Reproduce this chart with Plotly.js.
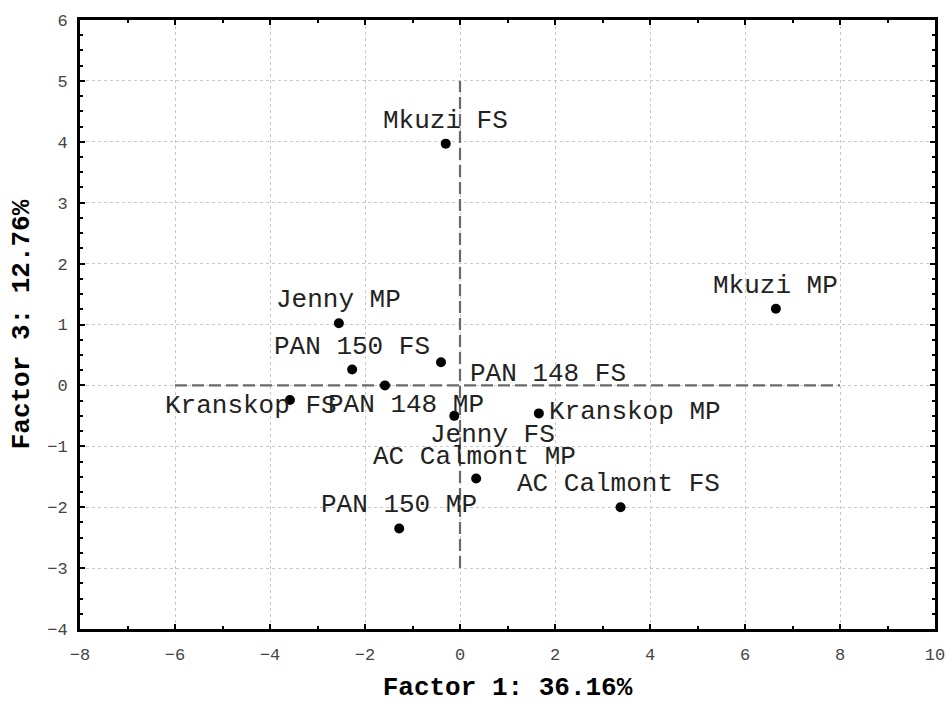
<!DOCTYPE html>
<html>
<head>
<meta charset="utf-8">
<script src="https://cdn.plot.ly/plotly-3.0.1.min.js"></script>
<style>html,body{margin:0;padding:0;background:#fff;}#chart{width:948px;height:709px;}</style>
</head>
<body>
<div id="chart"></div>
<script>
// ---- data ----
const labels = ["Mkuzi FS","Mkuzi MP","Jenny MP","PAN 150 FS","PAN 148 FS","PAN 148 MP","Kranskop FS","Jenny FS","Kranskop MP","AC Calmont MP","AC Calmont FS","PAN 150 MP"];
const factor1 = [-0.30, 6.65, -2.55, -2.27, -0.40, -1.58, -3.58, -0.12, 1.66, 0.34, 3.38, -1.28];
const factor3 = [3.97, 1.26, 1.02, 0.26, 0.38, 0.00, -0.24, -0.50, -0.46, -1.53, -2.00, -2.35];
const crossHx = [-6, 8], crossHy = [0, 0];
const crossVx = [0, 0], crossVy = [-3, 5];
const xTitle = "Factor 1: 36.16%";
const yTitle = "Factor 3: 12.76%";

// label offsets in px (text centre relative to point; dy positive = down)
const labelDx = [0, 0, 0, 0, 107, 21, -39, 38, 96, -2, -2, 0];
const labelDy = [-23, -23, -23, -23, 12, 20, 6, 19, -1, -22, -23, -24];

const mono = "'Courier New', 'Liberation Mono', monospace";

const traces = [
  {x: crossHx, y: crossHy, mode: "lines", line: {color: "#6a6a6a", width: 2.2, dash: "12px,5px"}, hoverinfo: "skip"},
  {x: crossVx, y: crossVy, mode: "lines", line: {color: "#6a6a6a", width: 2.2, dash: "12px,5px"}, hoverinfo: "skip"},
  {x: factor1, y: factor3, text: labels, mode: "markers", marker: {color: "#000", size: 10}}
];

const annotations = labels.map((t, i) => ({
  x: factor1[i], y: factor3[i], xref: "x", yref: "y", text: t, showarrow: false,
  xanchor: "center", yanchor: "middle", xshift: labelDx[i], yshift: -labelDy[i],
  font: {family: mono, size: 26, color: "#222"}
}));

const axisCommon = {
  showline: true, linecolor: "#000", linewidth: 3, mirror: "allticks",
  ticks: "inside", ticklen: 5, tickwidth: 2, tickcolor: "#000",
  showgrid: true, gridcolor: "#c8c8c8", griddash: "dot", gridwidth: 1,
  zeroline: false,
  tickfont: {family: mono, size: 17, color: "#444"},
  automargin: false
};

const layout = {
  width: 948, height: 709,
  margin: {l: 80, r: 13, t: 20, b: 80},
  paper_bgcolor: "#fff", plot_bgcolor: "#fff",
  showlegend: false,
  xaxis: Object.assign({}, axisCommon, {
    range: [-8, 10], dtick: 2, tick0: -8,
    minor: {dtick: 1, ticks: "inside", ticklen: 3, tickwidth: 2, tickcolor: "#000", showgrid: false},
    ticklabelstandoff: 8,
    title: {text: xTitle, font: {family: mono, size: 26, color: "#000", weight: "bold"}, standoff: 13}
  }),
  yaxis: Object.assign({}, axisCommon, {
    range: [-4, 6], dtick: 1, tick0: -4,
    minor: {dtick: 0.25, ticks: "inside", ticklen: 3, tickwidth: 2, tickcolor: "#000", showgrid: false},
    ticklabelstandoff: 6,
    title: {text: yTitle, font: {family: mono, size: 26, color: "#000", weight: "bold"}, standoff: 11}
  }),
  annotations: annotations
};

Plotly.newPlot("chart", traces, layout, {staticPlot: true, displayModeBar: false});
</script>
</body>
</html>
